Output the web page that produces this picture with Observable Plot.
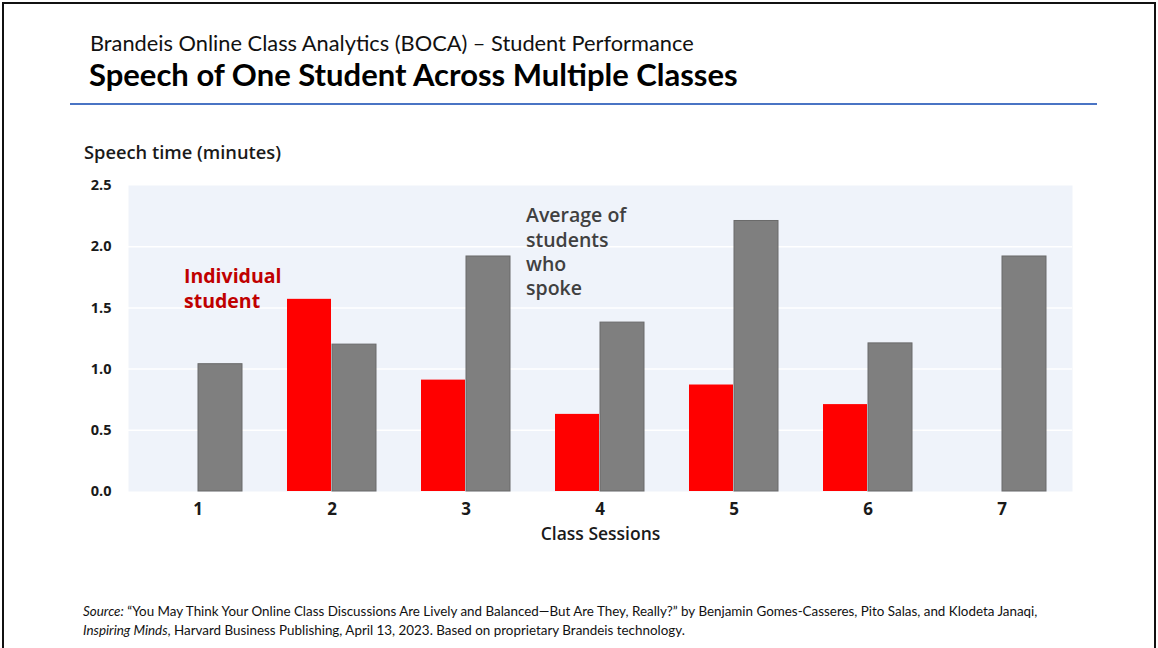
<!DOCTYPE html>
<html>
<head>
<meta charset="utf-8">
<script src="https://cdn.jsdelivr.net/npm/d3@7"></script>
<script src="https://cdn.jsdelivr.net/npm/@observablehq/plot@0.6"></script>
<style>
  html, body { margin: 0; padding: 0; background: #fff; }
  #page { position: relative; width: 1158px; height: 648px; overflow: hidden; background: #fff; }
  #frame { position: absolute; left: 2px; top: 2px; width: 1150px; height: 660px; border: 2px solid #111; }
  .hdr { position: absolute; font-family: Lato, "Open Sans", sans-serif; white-space: nowrap; line-height: 1.2; }
  #subtitle { left: 90px; top: 30px; font-size: 21.8px; color: #111; }
  #title { left: 89px; top: 56px; font-size: 31px; font-weight: 700; color: #000; }
  #rule { position: absolute; left: 70px; top: 103px; width: 1027px; height: 2px; background: #4A74C4; }
  #ylabel { position: absolute; left: 84px; top: 139px; font-family: "Open Sans", sans-serif; font-weight: 600; font-size: 18.3px; color: #1a1a1a; white-space: nowrap; }
  #chart { position: absolute; left: 0; top: 130px; }
  #source { position: absolute; left: 83px; top: 602px; font-family: Lato, sans-serif; font-size: 13.4px; line-height: 19px; color: #111; white-space: nowrap; }
</style>
</head>
<body>
<div id="page">
  <div id="frame"></div>
  <div class="hdr" id="subtitle">Brandeis Online Class Analytics (BOCA) – Student Performance</div>
  <div class="hdr" id="title">Speech of One Student Across Multiple Classes</div>
  <div id="rule"></div>
  <div id="ylabel">Speech time (minutes)</div>
  <div id="chart"></div>
  <div id="source"><i>Source:</i> “You May Think Your Online Class Discussions Are Lively and Balanced—But Are They, Really?” by Benjamin Gomes-Casseres, Pito Salas, and Klodeta Janaqi,<br><i>Inspiring Minds</i>, Harvard Business Publishing, April 13, 2023. Based on proprietary Brandeis technology.</div>
</div>
<script>
// ---- data ----
const sessions = ["1", "2", "3", "4", "5", "6", "7"];
const individual = [null, 1.57, 0.91, 0.63, 0.87, 0.71, null];
const average = [1.04, 1.20, 1.92, 1.38, 2.21, 1.21, 1.92];
const yTicks = [0, 0.5, 1.0, 1.5, 2.0, 2.5];
const annotations = [
  {session: "1", value: 1.67, text: "Individual\nstudent", series: "Individual student"},
  {session: "3", value: 1.965, text: "Average of\nstudents\nwho\nspoke", series: "Average of students who spoke"}
];

const indRows = sessions.map((s, i) => ({session: s, value: individual[i]})).filter(d => d.value != null);
const avgRows = sessions.map((s, i) => ({session: s, value: average[i]}));

const BAR_HALF = 45; // half of each session's bar group width (px)

const chart = Plot.plot({
  width: 1158,
  height: 430,
  marginLeft: 128,
  marginRight: 86,
  marginTop: 55,
  marginBottom: 69,
  style: {fontFamily: "'Open Sans', sans-serif", background: "transparent"},
  x: {type: "band", domain: sessions, paddingInner: 1/3, paddingOuter: 1/6},
  y: {domain: [0, 2.5]},
  marks: [
    Plot.frame({fill: "#EFF3FA", stroke: null}),
    Plot.gridY(yTicks.slice(1, -1), {stroke: "#ffffff", strokeOpacity: 1, strokeWidth: 1.5}),
    Plot.barY(indRows, {x: "session", y: "value", fill: "#FF0000", insetRight: BAR_HALF, insetLeft: 0}),
    Plot.barY(avgRows, {x: "session", y: "value", fill: "#7F7F7F", stroke: "#6a6a6a", strokeWidth: 1, insetLeft: BAR_HALF, insetRight: 0}),
    Plot.axisY(yTicks, {tickSize: 0, tickPadding: 17, tickFormat: d3.format(".1f"), label: null, fontSize: 14.5, fontWeight: 700, fill: "#1a1a1a"}),
    Plot.axisX({tickSize: 0, tickPadding: 11, label: null, fontSize: 17, fontWeight: 700, fill: "#1a1a1a"}),
    Plot.text(["Class Sessions"], {frameAnchor: "bottom", dy: 48, fontSize: 17.5, fontWeight: 600, fill: "#1a1a1a"}),
    Plot.text(annotations.slice(0, 1), {x: "session", y: "value", text: "text", dx: -14, textAnchor: "start", lineAnchor: "middle", lineHeight: 1.28, fontSize: 19.5, fontWeight: 700, fill: "#C00000"}),
    Plot.text(annotations.slice(1), {x: "session", y: "value", text: "text", dx: 60, textAnchor: "start", lineAnchor: "middle", lineHeight: 1.25, fontSize: 19.5, fontWeight: 600, fill: "#404040"})
  ]
});
document.getElementById("chart").appendChild(chart);
</script>
</body>
</html>
